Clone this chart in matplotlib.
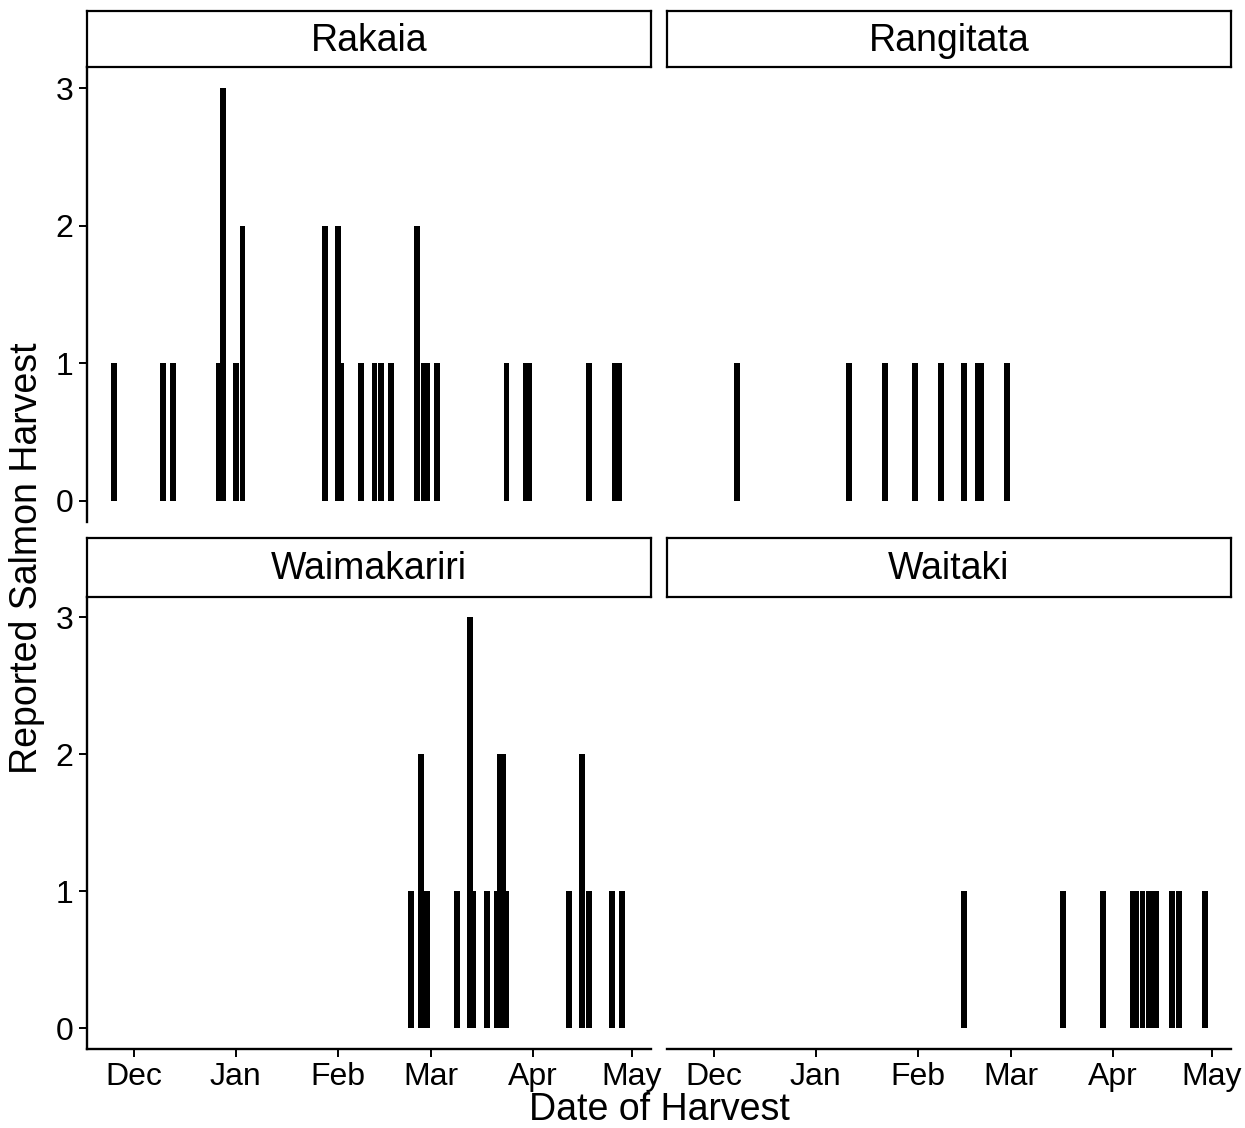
import numpy as np
import matplotlib
matplotlib.use('Agg')
import matplotlib.pyplot as plt
import matplotlib.dates as mdates

plt.rcParams['font.family'] = ['Liberation Sans', 'DejaVu Sans']

# Reported harvest per day, by river
rivers = ['Rakaia', 'Rangitata', 'Waimakariri', 'Waitaki']

rakaia_dates = ['2018-11-25', '2018-12-10', '2018-12-13', '2018-12-27', '2018-12-28',
                '2019-01-01', '2019-01-03', '2019-01-28', '2019-02-01', '2019-02-02',
                '2019-02-08', '2019-02-12', '2019-02-14', '2019-02-17', '2019-02-25',
                '2019-02-27', '2019-02-28', '2019-03-03', '2019-03-24', '2019-03-30',
                '2019-03-31', '2019-04-18', '2019-04-26', '2019-04-27']
rakaia_counts = [1, 1, 1, 1, 3, 1, 2, 2, 2, 1, 1, 1, 1, 1, 2, 1, 1, 1, 1, 1, 1, 1, 1, 1]

rangitata_dates = ['2018-12-08', '2019-01-11', '2019-01-22', '2019-01-31', '2019-02-08',
                   '2019-02-15', '2019-02-19', '2019-02-20', '2019-02-28']
rangitata_counts = [1, 1, 1, 1, 1, 1, 1, 1, 1]

waimakariri_dates = ['2019-02-23', '2019-02-26', '2019-02-28', '2019-03-09', '2019-03-13',
                     '2019-03-14', '2019-03-18', '2019-03-21', '2019-03-22', '2019-03-23',
                     '2019-03-24', '2019-04-12', '2019-04-16', '2019-04-18', '2019-04-25',
                     '2019-04-28']
waimakariri_counts = [1, 2, 1, 1, 3, 1, 1, 1, 2, 2, 1, 1, 2, 1, 1, 1]

waitaki_dates = ['2019-02-15', '2019-03-17', '2019-03-29', '2019-04-07', '2019-04-08',
                 '2019-04-10', '2019-04-12', '2019-04-13', '2019-04-14', '2019-04-19',
                 '2019-04-21', '2019-04-29']
waitaki_counts = [1, 1, 1, 1, 1, 1, 1, 1, 1, 1, 1, 1]

data = {
    'Rakaia': (rakaia_dates, rakaia_counts),
    'Rangitata': (rangitata_dates, rangitata_counts),
    'Waimakariri': (waimakariri_dates, waimakariri_counts),
    'Waitaki': (waitaki_dates, waitaki_counts),
}

W, H = 1245, 1128
fig = plt.figure(figsize=(W / 100, H / 100), dpi=100)

# panel boxes in pixels: (x0, x1, y_top, y_bottom)
col_x = [(87, 651), (667, 1231)]
row_y = [(67.4, 521.6), (596.5, 1048.6)]
strip_y = [(11, 67.4), (538, 596.5)]

x0 = mdates.date2num(np.datetime64('2018-12-01'))
xlim = (x0 - 14.1, x0 + 156.8)
lw = 1.7

for i, river in enumerate(rivers):
    r, c = divmod(i, 2)
    xa, xb = col_x[c]
    yt, yb = row_y[r]
    ax = fig.add_axes([xa / W, 1 - yb / H, (xb - xa) / W, (yb - yt) / H])
    dates, counts = data[river]
    xs = mdates.date2num(np.array(dates, dtype='datetime64[D]'))
    ax.bar(xs, counts, width=1.75, color='black', edgecolor='none')
    ax.set_xlim(*xlim)
    ax.set_ylim(-0.15, 3.15)
    for s in ['top', 'right']:
        ax.spines[s].set_visible(False)
    ax.spines['left'].set_linewidth(lw)
    ax.spines['bottom'].set_linewidth(lw)
    ax.xaxis.set_major_locator(mdates.MonthLocator(bymonthday=1))
    ax.xaxis.set_major_formatter(mdates.DateFormatter('%b'))
    ax.set_yticks([0, 1, 2, 3])
    ax.tick_params(axis='both', length=6, width=1.4, labelsize=23, pad=4, colors='black')
    if r == 0:
        ax.spines['bottom'].set_visible(False)
        ax.tick_params(axis='x', bottom=False, labelbottom=False)
    if c == 1:
        ax.spines['left'].set_visible(False)
        ax.tick_params(axis='y', left=False, labelleft=False)

    # facet strip
    st, sb = strip_y[r]
    sax = fig.add_axes([xa / W, 1 - sb / H, (xb - xa) / W, (sb - st) / H])
    sax.set_xticks([])
    sax.set_yticks([])
    for s in sax.spines.values():
        s.set_linewidth(1.6)
        s.set_color('black')
    sax.text(0.5, 0.47, river, ha='center', va='center', fontsize=27,
             transform=sax.transAxes)

fig.text(659 / W, 1 - 1110 / H, 'Date of Harvest', ha='center', va='center', fontsize=27)
fig.text(27 / W, 1 - 558 / H, 'Reported Salmon Harvest', ha='center', va='center',
         rotation=90, fontsize=27)

fig.savefig('out.png', dpi=100, facecolor='white')
